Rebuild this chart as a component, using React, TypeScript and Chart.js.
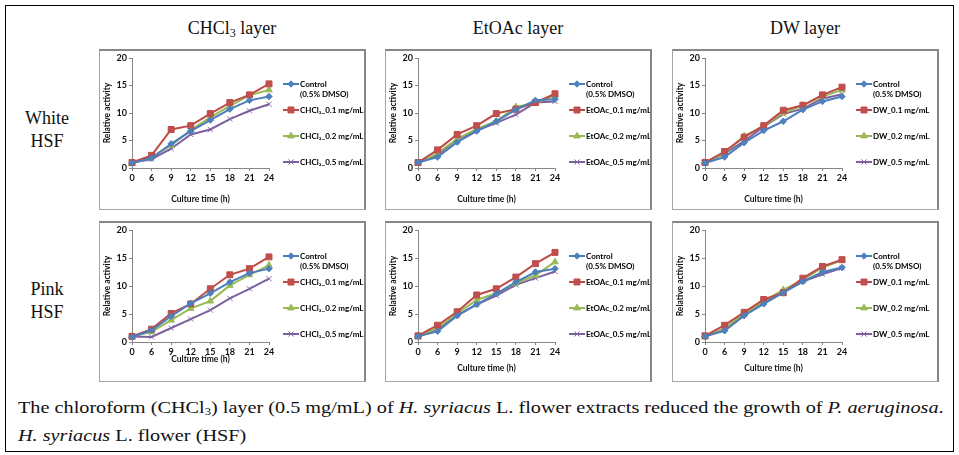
import React, { useEffect, useLayoutEffect, useRef } from 'react';
import { Chart, registerables } from 'chart.js';

Chart.register(...registerables);

// ---------- data ----------
const categories = ['0', '6', '9', '12', '15', '18', '21', '24'];

const whiteChcl3Control = [0.9, 1.8, 4.4, 6.7, 8.7, 10.7, 12.3, 13.0];
const whiteChcl3Low = [1.0, 2.3, 7.0, 7.7, 9.9, 11.9, 13.3, 15.3];
const whiteChcl3Mid = [0.8, 2.0, 4.1, 6.9, 9.2, 11.3, 13.2, 14.2];
const whiteChcl3High = [1.0, 1.6, 3.5, 6.1, 7.0, 8.9, 10.4, 11.6];

const whiteEtoacControl = [1.0, 2.0, 4.7, 6.7, 8.5, 10.6, 12.3, 12.5];
const whiteEtoacLow = [1.0, 3.3, 6.1, 7.7, 9.9, 10.7, 11.9, 13.5];
const whiteEtoacMid = [0.8, 2.7, 5.3, 7.1, 8.5, 11.1, 11.8, 13.2];
const whiteEtoacHigh = [0.9, 2.4, 5.2, 6.8, 8.2, 9.7, 11.9, 12.1];

const whiteDwControl = [0.9, 2.0, 4.6, 6.8, 8.5, 10.6, 12.1, 13.0];
const whiteDwLow = [1.0, 3.0, 5.6, 7.7, 10.5, 11.4, 13.3, 14.7];
const whiteDwMid = [1.0, 2.8, 5.8, 7.6, 10.0, 11.4, 13.0, 14.2];
const whiteDwHigh = [1.0, 2.6, 4.9, 7.5, 9.8, 10.8, 12.6, 13.4];

const pinkChcl3Control = [0.9, 2.1, 4.6, 6.9, 8.7, 10.7, 12.3, 13.1];
const pinkChcl3Low = [1.0, 2.3, 5.1, 6.8, 9.5, 12.0, 13.1, 15.2];
const pinkChcl3Mid = [1.0, 1.8, 3.9, 6.0, 7.3, 10.1, 12.0, 13.7];
const pinkChcl3High = [1.0, 0.9, 2.5, 4.1, 5.7, 7.8, 9.5, 11.3];

const pinkEtoacControl = [1.0, 1.9, 4.7, 6.7, 8.6, 10.7, 12.5, 13.1];
const pinkEtoacLow = [1.1, 3.0, 5.4, 8.4, 9.5, 11.6, 14.0, 16.0];
const pinkEtoacMid = [1.0, 2.5, 5.1, 7.5, 8.7, 10.5, 11.9, 14.3];
const pinkEtoacHigh = [0.9, 2.4, 4.7, 6.7, 8.3, 10.2, 11.4, 12.6];

const pinkDwControl = [1.0, 2.0, 4.7, 6.8, 8.8, 10.8, 12.5, 13.3];
const pinkDwLow = [1.1, 3.0, 5.3, 7.6, 8.8, 11.4, 13.5, 14.7];
const pinkDwMid = [0.9, 2.4, 5.0, 7.3, 9.3, 11.1, 13.3, 14.6];
const pinkDwHigh = [1.0, 2.4, 4.9, 7.1, 9.0, 10.8, 12.1, 13.2];

const controlLabel = ['Control', '(0.5% DMSO)'];
const chcl3Labels = ['CHCl\u2083_0.1 mg/mL', 'CHCl\u2083_0.2 mg/mL', 'CHCl\u2083_0.5 mg/mL'];
const etoacLabels = ['EtOAc_0.1 mg/mL', 'EtOAc_0.2 mg/mL', 'EtOAc_0.5 mg/mL'];
const dwLabels = ['DW_0.1 mg/mL', 'DW_0.2 mg/mL', 'DW_0.5 mg/mL'];

const yTicksMax = 20;
const yTickStep = 5;

// ---------- styles ----------
const lineColors = ['#4A7EBB', '#BE4B48', '#98B954', '#7D60A0'];
const fillColors = ['#4F81BD', '#C0504D', '#9BBB59', '#8064A2'];
const markerStyles = ['rectRot', 'rect', 'triangle', 'crossRot'];
const markerRadius = [3.2, 4.2, 3.8, 3.6];

const tickFont = { family: 'Lato, "Liberation Sans", sans-serif', size: 9, weight: 'bold' as const };
const titleFont = { family: 'Lato, "Liberation Sans", sans-serif', size: 8.5, weight: 'bold' as const };
const legendFont = 'bold 8px Lato, "Liberation Sans", sans-serif';

function drawMarker(ctx: CanvasRenderingContext2D, style: string, x: number, y: number, r: number, fill: string, stroke: string) {
  ctx.save();
  ctx.fillStyle = fill;
  ctx.strokeStyle = stroke;
  ctx.lineWidth = 1;
  ctx.beginPath();
  if (style === 'rectRot') {
    ctx.moveTo(x, y - r);
    ctx.lineTo(x + r, y);
    ctx.lineTo(x, y + r);
    ctx.lineTo(x - r, y);
    ctx.closePath();
    ctx.fill();
    ctx.stroke();
  } else if (style === 'rect') {
    const s = r * Math.SQRT1_2;
    ctx.rect(x - s, y - s, 2 * s, 2 * s);
    ctx.fill();
    ctx.stroke();
  } else if (style === 'triangle') {
    ctx.moveTo(x, y - r);
    ctx.lineTo(x + r * 0.87, y + r * 0.5);
    ctx.lineTo(x - r * 0.87, y + r * 0.5);
    ctx.closePath();
    ctx.fill();
    ctx.stroke();
  } else {
    const s = r * Math.SQRT1_2;
    ctx.moveTo(x - s, y - s);
    ctx.lineTo(x + s, y + s);
    ctx.moveTo(x + s, y - s);
    ctx.lineTo(x - s, y + s);
    ctx.stroke();
  }
  ctx.restore();
}

const sideLegend = {
  id: 'sideLegend',
  afterDraw(chart: any, _args: any, opts: any) {
    const ctx: CanvasRenderingContext2D = chart.ctx;
    const x0: number = opts.x;
    const ys: number[] = opts.ys;
    chart.data.datasets.forEach((ds: any, i: number) => {
      const y = ys[i];
      ctx.save();
      ctx.strokeStyle = lineColors[i];
      ctx.lineWidth = 2;
      ctx.beginPath();
      ctx.moveTo(x0, y);
      ctx.lineTo(x0 + 16, y);
      ctx.stroke();
      ctx.restore();
      drawMarker(ctx, markerStyles[i], x0 + 8, y, markerRadius[i], fillColors[i], i === 3 ? fillColors[i] : lineColors[i]);
      ctx.save();
      ctx.fillStyle = '#000';
      ctx.font = legendFont;
      ctx.textBaseline = 'middle';
      ctx.textAlign = 'left';
      const label = ds.label;
      const lines = Array.isArray(label) ? label : [label];
      lines.forEach((t: string, k: number) => ctx.fillText(t, x0 + 17, y + k * 10));
      ctx.restore();
    });
  },
};

type PanelProps = {
  left: number;
  top: number;
  width: number;
  height: number;
  series: number[][];
  labels: (string | string[])[];
  xAxisHeight: number;
  titlePad: number;
};

function Panel({ left, top, width, height, series, labels, xAxisHeight, titlePad }: PanelProps) {
  const ref = useRef<HTMLCanvasElement | null>(null);
  useEffect(() => {
    if (!ref.current) return;
    const chart = new Chart(ref.current, {
      type: 'line',
      data: {
        labels: categories,
        datasets: series.map((d, i) => ({
          label: labels[i] as any,
          data: d,
          borderColor: lineColors[i],
          backgroundColor: fillColors[i],
          borderWidth: 2,
          pointStyle: markerStyles[i] as any,
          pointRadius: markerRadius[i],
          pointBorderColor: i === 3 ? fillColors[i] : lineColors[i],
          pointBackgroundColor: fillColors[i],
          pointBorderWidth: 1,
          tension: 0,
          fill: false,
        })),
      },
      options: {
        responsive: false,
        maintainAspectRatio: false,
        animation: false,
        layout: { padding: { top: 9, right: 97, left: 0, bottom: 0 } },
        plugins: {
          legend: { display: false },
          tooltip: { enabled: false },
          sideLegend: { x: 184, ys: [35, 61, 87, 113] },
        } as any,
        scales: {
          x: {
            type: 'category',
            offset: false,
            grid: { display: true, drawOnChartArea: false, tickLength: 3, color: '#868686' },
            border: { display: true, color: '#868686', width: 1 },
            ticks: { font: tickFont, color: '#111', padding: 2, maxRotation: 0, autoSkip: false },
            title: { display: true, text: 'Culture time (h)', font: titleFont, color: '#111', padding: { top: 0, bottom: titlePad } },
            afterFit: (s: any) => { s.height = xAxisHeight; },
          },
          y: {
            min: 0,
            max: yTicksMax,
            grid: { display: true, drawOnChartArea: false, tickLength: 3, color: '#868686' },
            border: { display: true, color: '#868686', width: 1 },
            ticks: { stepSize: yTickStep, font: tickFont, color: '#111', padding: 2 },
            title: { display: true, text: 'Relative activity', font: titleFont, color: '#111', padding: { top: 3, bottom: 0 } },
            afterFit: (s: any) => { s.width = 33; },
          },
        },
      },
      plugins: [sideLegend as any],
    });
    return () => chart.destroy();
  }, []);
  return (
    <>
      <canvas
        ref={ref}
        width={width}
        height={height}
        style={{ position: 'absolute', left, top, width, height }}
      />
      <div
        style={{
          position: 'absolute',
          left,
          top,
          width,
          height,
          boxSizing: 'border-box',
          borderLeft: '1px solid #a6a6a6',
          borderBottom: '1px solid #a6a6a6',
          borderTop: '2px solid #868686',
          borderRight: '2px solid #868686',
          pointerEvents: 'none',
        }}
      />
    </>
  );
}

const serif = '"Liberation Serif", "DejaVu Serif", serif';

function Caption() {
  const line1 = useRef<HTMLSpanElement | null>(null);
  const box = useRef<HTMLDivElement | null>(null);
  useLayoutEffect(() => {
    const fit = () => {
      if (!line1.current || !box.current) return;
      const w = line1.current.getBoundingClientRect().width / (box.current.getBoundingClientRect().width / box.current.offsetWidth || 1);
      const natural = line1.current.offsetWidth || w;
      if (natural > 0) box.current.style.transform = `scaleX(${926 / natural})`;
    };
    fit();
    if ((document as any).fonts && (document as any).fonts.ready) {
      (document as any).fonts.ready.then(fit);
    }
  }, []);
  return (
    <div
      ref={box}
      style={{
        position: 'absolute',
        left: 18,
        top: 396,
        transformOrigin: '0 0',
        whiteSpace: 'nowrap',
        fontFamily: serif,
        fontSize: 16,
        lineHeight: '24px',
        color: '#111',
      }}
    >
      <div>
        <span ref={line1} style={{ display: 'inline-block' }}>
          The chloroform (CHCl<sub style={{ fontSize: 10, verticalAlign: '-2px' }}>3</sub>) layer (0.5 mg/mL) of <i>H. syriacus</i> L. flower extracts reduced the growth of <i>P. aeruginosa</i>.
        </span>
      </div>
      <div>
        <i>H. syriacus</i> L. flower (HSF)
      </div>
    </div>
  );
}

export default function App() {
  const colLefts = [99, 385, 672];
  const panelW = 267;
  const topRow = { top: 49, height: 161 };
  const bottomRow = { top: 221, height: 161 };

  const colTitle = (text: React.ReactNode, cx: number) => (
    <div
      style={{
        position: 'absolute',
        left: cx - 100,
        width: 200,
        top: 16,
        height: 24,
        lineHeight: '24px',
        textAlign: 'center',
        fontSize: 18,
        fontFamily: serif,
        color: '#111',
      }}
    >
      {text}
    </div>
  );

  const rowLabel = (a: string, b: string, cy: number) => (
    <div
      style={{
        position: 'absolute',
        left: 7,
        width: 80,
        top: cy - 23,
        lineHeight: '23px',
        textAlign: 'center',
        fontSize: 18,
        fontFamily: serif,
        color: '#111',
      }}
    >
      <div>{a}</div>
      <div>{b}</div>
    </div>
  );

  return (
    <div style={{ position: 'absolute', left: 0, top: 0, width: 959, height: 455, background: '#fff', overflow: 'hidden' }}>
      <div
        style={{
          position: 'absolute',
          left: 5,
          top: 5,
          width: 949,
          height: 447,
          boxSizing: 'border-box',
          border: '1px solid #000',
        }}
      />
      {colTitle(<span>CHCl<sub style={{ fontSize: 12, verticalAlign: '-3px' }}>3</sub> layer</span>, 232)}
      {colTitle('EtOAc layer', 518)}
      {colTitle('DW layer', 805)}
      {rowLabel('White', 'HSF', 130)}
      {rowLabel('Pink', 'HSF', 301)}

      <Panel left={colLefts[0]} top={topRow.top} width={panelW} height={topRow.height}
        series={[whiteChcl3Control, whiteChcl3Low, whiteChcl3Mid, whiteChcl3High]}
        labels={[controlLabel, ...chcl3Labels]} xAxisHeight={42} titlePad={6} />
      <Panel left={colLefts[1]} top={topRow.top} width={panelW} height={topRow.height}
        series={[whiteEtoacControl, whiteEtoacLow, whiteEtoacMid, whiteEtoacHigh]}
        labels={[controlLabel, ...etoacLabels]} xAxisHeight={42} titlePad={6} />
      <Panel left={colLefts[2]} top={topRow.top} width={panelW} height={topRow.height}
        series={[whiteDwControl, whiteDwLow, whiteDwMid, whiteDwHigh]}
        labels={[controlLabel, ...dwLabels]} xAxisHeight={42} titlePad={6} />

      <Panel left={colLefts[0]} top={bottomRow.top} width={panelW} height={bottomRow.height}
        series={[pinkChcl3Control, pinkChcl3Low, pinkChcl3Mid, pinkChcl3High]}
        labels={[controlLabel, ...chcl3Labels]} xAxisHeight={40} titlePad={18} />
      <Panel left={colLefts[1]} top={bottomRow.top} width={panelW} height={bottomRow.height}
        series={[pinkEtoacControl, pinkEtoacLow, pinkEtoacMid, pinkEtoacHigh]}
        labels={[controlLabel, ...etoacLabels]} xAxisHeight={40} titlePad={9} />
      <Panel left={colLefts[2]} top={bottomRow.top} width={panelW} height={bottomRow.height}
        series={[pinkDwControl, pinkDwLow, pinkDwMid, pinkDwHigh]}
        labels={[controlLabel, ...dwLabels]} xAxisHeight={40} titlePad={9} />

      <Caption />
    </div>
  );
}
